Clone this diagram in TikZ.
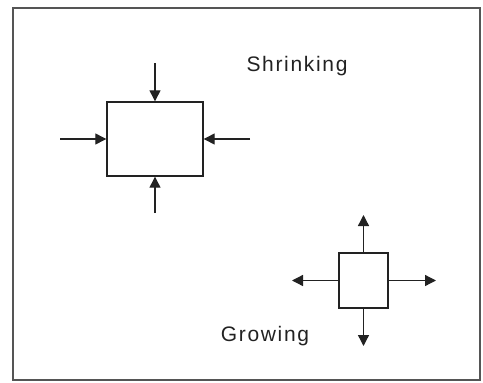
\documentclass[tikz,border=0pt]{standalone}
\usepackage{fontspec}
\setmainfont{Liberation Sans}[LetterSpace=8]
\usetikzlibrary{arrows.meta}
\definecolor{ink}{HTML}{222222}
\definecolor{frame}{HTML}{555555}
\begin{document}
\begin{tikzpicture}[x=1pt,y=-1pt,
  boxstyle/.style={draw=ink,line width=1.4pt,fill=white,inner sep=0pt},
  arr/.style={draw=ink,line width=1.3pt,-{Triangle[length=11pt,width=11pt]}},
  lbl/.style={text=ink,font=\fontsize{21}{24}\selectfont,inner sep=0pt}]
\useasboundingbox (0,0) rectangle (483,383);
\draw[frame,line width=1.8pt] (13,8) rectangle (480,380);
% shrinking
\node[boxstyle,minimum width=96pt,minimum height=74pt] (big) at (155,139) {};
\coordinate (st) at (155,63);
\coordinate (sb) at (155,213);
\coordinate (sl) at (60,139);
\coordinate (sr) at (250,139);
\draw[arr] (st) -- (big.north);
\draw[arr] (sb) -- (big.south);
\draw[arr] (sl) -- (big.west);
\draw[arr] (sr) -- (big.east);
\node[lbl] (shr) at (297,66) {Shrinking};
% growing
\node[boxstyle,minimum width=49pt,minimum height=55pt] (small) at (363.5,280.5) {};
\coordinate (gt) at (363.5,215);
\coordinate (gb) at (363.5,346);
\coordinate (gl) at (292,280.5);
\coordinate (gr) at (436,280.5);
\draw[arr] (small.north) -- (gt);
\draw[arr] (small.south) -- (gb);
\draw[arr] (small.west) -- (gl);
\draw[arr] (small.east) -- (gr);
\node[lbl] (gro) at (265,336) {Growing};
\end{tikzpicture}
\end{document}
